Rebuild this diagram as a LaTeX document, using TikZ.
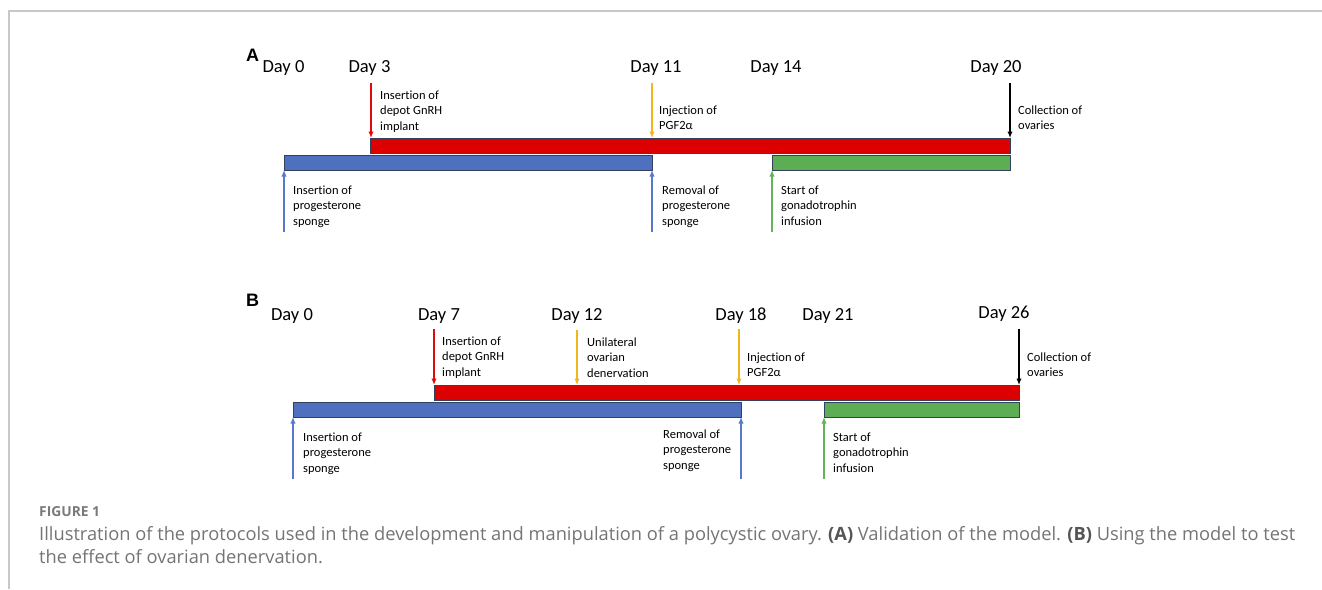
\documentclass[tikz,border=0pt]{standalone}
\usepackage{fontspec}
\setmainfont{Carlito}[Ligatures=NoCommon]
\newfontfamily\capfont{Open Sans}
\newfontfamily\panelfont{Liberation Sans}
\usetikzlibrary{arrows.meta}
\definecolor{barred}{HTML}{DC0000}
\definecolor{arrred}{HTML}{E00A0A}
\definecolor{barblue}{HTML}{4F6FBF}
\definecolor{arrblue}{HTML}{5779CC}
\definecolor{bargreen}{HTML}{5DAD55}
\definecolor{arrgreen}{HTML}{63B35B}
\definecolor{arryellow}{HTML}{F2B51E}
\definecolor{barline}{HTML}{33415C}
\definecolor{framegray}{HTML}{C8C8C8}
\definecolor{captext}{HTML}{747474}
\definecolor{capbold}{HTML}{555555}
\definecolor{figlbl}{HTML}{7A7A7A}
\newlength\caplen
\newcommand{\capone}{Illustration of the protocols used in the development and manipulation of a polycystic ovary. {\color{capbold}\textbf{(A)}} Validation of the model. {\color{capbold}\textbf{(B)}} Using the model to test}
\AtBeginDocument{%
  \settowidth\caplen{\capfont\fontsize{10}{12}\selectfont\capone}%
  \pgfmathsetmacro\capsz{10*1256/\caplen}%
  \xdef\capsz{\capsz}%
}
\newcommand{\lbl}[1]{\begin{tabular}[t]{@{}l@{}}#1\end{tabular}}
\tikzset{
  daylbl/.style={anchor=base, inner sep=0pt, font=\fontsize{18.5}{22}\selectfont},
  evlbl/.style={anchor=base west, inner sep=0pt, font=\fontsize{12.5}{15.5}\selectfont},
  barbox/.style={draw=barline, line width=0.9pt, inner sep=0pt, outer sep=0pt, anchor=north west, minimum height=15pt},
  arr/.style={line width=1.8pt, -{Latex[length=6.5pt,width=5.5pt]}},
  panellbl/.style={anchor=base west, inner sep=0pt, font=\panelfont\bfseries\fontsize{18}{21}\selectfont},
  caplbl/.style={anchor=base west, inner sep=0pt, text=captext},
}
\begin{document}
\begin{tikzpicture}[x=1pt,y=-1pt]
\useasboundingbox (0,0) rectangle (1322,589);
% frame
\draw[framegray, line width=1.4pt] (1322,11) -- (9,11) -- (9,589);

% ---------- Panel A ----------
\node[panellbl] (pA) at (246,61) {A};
\node[daylbl] (dA0) at (283.5,72) {Day 0};
\node[daylbl] (dA3) at (369.5,72) {Day 3};
\node[daylbl] (dA11) at (656,72) {Day 11};
\node[daylbl] (dA14) at (776,72) {Day 14};
\node[daylbl] (dA20) at (996,72) {Day 20};

\node[barbox, fill=barred, minimum width=640pt] (redA) at (370,138) {};
\node[barbox, fill=barblue, minimum width=368pt] (blueA) at (284,155) {};
\node[barbox, fill=bargreen, minimum width=238pt] (greenA) at (772,155) {};

\coordinate (tA3) at (371,83);
\coordinate (tA11) at (652,83);
\coordinate (tA20) at (1010,83);
\coordinate (bA0) at (284,232);
\coordinate (bA11) at (652,232);
\coordinate (bA14) at (772,232);
\draw[arr, arrred] (tA3) -- (tA3 |- redA.north);
\draw[arr, arryellow] (tA11) -- (tA11 |- redA.north);
\draw[arr, black] (tA20) -- (tA20 |- redA.north);
\draw[arr, arrblue] (bA0) -- (bA0 |- blueA.south);
\draw[arr, arrblue] (bA11) -- (bA11 |- blueA.south);
\draw[arr, arrgreen] (bA14) -- (bA14 |- greenA.south);

\node[evlbl] (lA3) at (380,99) {\lbl{Insertion of\\depot GnRH\\implant}};
\node[evlbl] (lA11) at (659,114) {\lbl{Injection of\\PGF2α}};
\node[evlbl] (lA20) at (1018,114) {\lbl{Collection of\\ovaries}};
\node[evlbl] (lA0b) at (293,194) {\lbl{Insertion of\\progesterone\\sponge}};
\node[evlbl] (lA11b) at (662,194) {\lbl{Removal of\\progesterone\\sponge}};
\node[evlbl] (lA14b) at (781,194) {\lbl{Start of\\gonadotrophin\\infusion}};

% ---------- Panel B ----------
\node[panellbl] (pB) at (246,306) {B};
\node[daylbl] (dB0) at (292,320) {Day 0};
\node[daylbl] (dB7) at (439,320) {Day 7};
\node[daylbl] (dB12) at (577,320) {Day 12};
\node[daylbl] (dB18) at (741,320) {Day 18};
\node[daylbl] (dB21) at (828,320) {Day 21};
\node[daylbl] (dB26) at (1004,318) {Day 26};

\node[barbox, fill=barred, minimum width=585pt] (redB) at (434,385) {};
\node[barbox, fill=barblue, minimum width=448pt] (blueB) at (293,402) {};
\node[barbox, fill=bargreen, minimum width=195pt] (greenB) at (824,402) {};

\coordinate (tB7) at (434,329);
\coordinate (tB12) at (577,330);
\coordinate (tB18) at (739,329);
\coordinate (tB26) at (1019,329);
\coordinate (bB0) at (293,479);
\coordinate (bB18) at (741,479);
\coordinate (bB21) at (824,479);
\draw[arr, arrred] (tB7) -- (tB7 |- redB.north);
\draw[arr, arryellow] (tB12) -- (tB12 |- redB.north);
\draw[arr, arryellow] (tB18) -- (tB18 |- redB.north);
\draw[arr, black] (tB26) -- (tB26 |- redB.north);
\draw[arr, arrblue] (bB0) -- (bB0 |- blueB.south);
\draw[arr, arrblue] (bB18) -- (bB18 |- blueB.south);
\draw[arr, arrgreen] (bB21) -- (bB21 |- greenB.south);

\node[evlbl] (lB7) at (442,345) {\lbl{Insertion of\\depot GnRH\\implant}};
\node[evlbl] (lB12) at (587,346) {\lbl{Unilateral\\ovarian\\denervation}};
\node[evlbl] (lB18) at (747,361) {\lbl{Injection of\\PGF2α}};
\node[evlbl] (lB26) at (1027,361) {\lbl{Collection of\\ovaries}};
\node[evlbl] (lB0b) at (303,441) {\lbl{Insertion of\\progesterone\\sponge}};
\node[evlbl] (lB18b) at (663,438) {\lbl{Removal of\\progesterone\\sponge}};
\node[evlbl] (lB21b) at (833,441) {\lbl{Start of\\gonadotrophin\\infusion}};

% ---------- Caption ----------
\node[caplbl, text=figlbl, font=\capfont\bfseries\fontsize{13.8}{16}\selectfont] (fig) at (39,516) {FIGURE 1};
\node[caplbl, font=\capfont\fontsize{\capsz}{\capsz}\selectfont] (cap1) at (39,540) {\capone};
\node[caplbl, font=\capfont\fontsize{\capsz}{\capsz}\selectfont] (cap2) at (39,563) {the effect of ovarian denervation.};
\end{tikzpicture}
\end{document}
